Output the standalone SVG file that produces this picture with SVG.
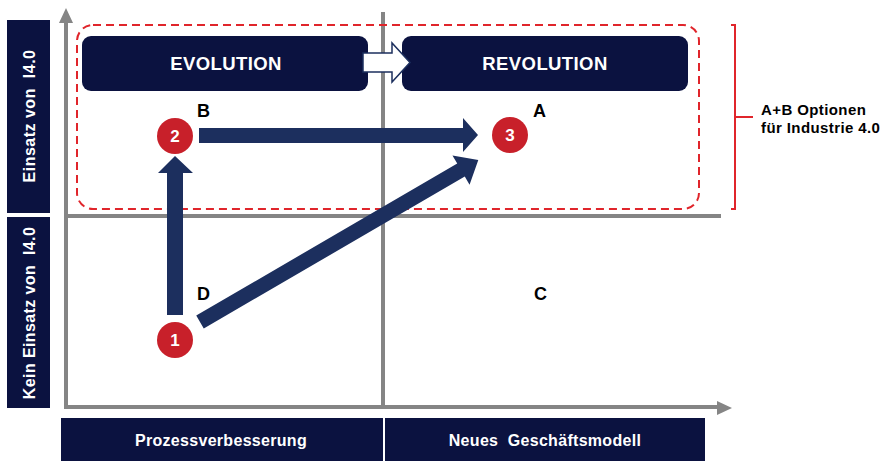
<svg xmlns="http://www.w3.org/2000/svg" width="886" height="461" viewBox="0 0 886 461">
  <style>
    .bar { fill: #0b1240; }
    .axis { stroke: #858585; stroke-width: 4; fill: none; }
    .lbl { font-family: "Liberation Sans", Arial, sans-serif; font-weight: bold; fill: #ffffff; }
    .txt { font-family: "Liberation Sans", Arial, sans-serif; font-weight: bold; fill: #000000; }
    .flow { fill: #1c2f5e; }
    .num { fill: #c8202a; }
  </style>
  <rect width="886" height="461" fill="#ffffff"/>

  <!-- axis labels -->
  <g id="label-einsatz">
    <rect class="bar" x="7" y="20" width="43" height="193"/>
    <text class="lbl" font-size="16" letter-spacing="0.5" text-anchor="middle" transform="translate(34.5,116) rotate(-90)">Einsatz von&#160; I4.0</text>
  </g>
  <g id="label-kein-einsatz">
    <rect class="bar" x="7" y="217" width="43" height="191"/>
    <text class="lbl" font-size="16" letter-spacing="0.4" text-anchor="middle" transform="translate(34.5,313) rotate(-90)">Kein Einsatz von&#160; I4.0</text>
  </g>
  <g id="label-prozess">
    <rect class="bar" x="61" y="418" width="322" height="43"/>
    <text class="lbl" font-size="16" letter-spacing="0.3" text-anchor="middle" x="221" y="446">Prozessverbesserung</text>
  </g>
  <g id="label-geschaeftsmodell">
    <rect class="bar" x="385" y="418" width="320" height="43"/>
    <text class="lbl" font-size="16" letter-spacing="0.3" text-anchor="middle" x="545" y="446">Neues&#160; Geschäftsmodell</text>
  </g>

  <!-- grid and axes -->
  <g id="axes">
    <line class="axis" x1="66" y1="407" x2="66" y2="22"/>
    <polygon points="66,8 59,23 73,23" fill="#858585"/>
    <line class="axis" x1="64" y1="407" x2="718" y2="407"/>
    <polygon points="732,408 717,401 717,415" fill="#858585"/>
    <line class="axis" x1="64" y1="216" x2="721" y2="216"/>
    <line class="axis" x1="383" y1="12" x2="383" y2="407"/>
  </g>

  <!-- option region -->
  <g id="options-region">
    <rect x="77" y="25" width="622" height="184" rx="16" fill="none" stroke="#e0252b" stroke-width="2" stroke-dasharray="8,5"/>
    <path d="M731,25 H735 V209 H731 M735,117 H753" fill="none" stroke="#e0252b" stroke-width="2"/>
    <text class="txt" font-size="15" letter-spacing="0.4" x="761" y="115">A+B Optionen</text>
    <text class="txt" font-size="15" letter-spacing="0.4" x="761" y="133">für Industrie 4.0</text>
  </g>

  <g id="evolution">
    <rect class="bar" x="82" y="36" width="286" height="55" rx="9"/>
    <text class="lbl" font-size="18.5" letter-spacing="0.4" text-anchor="middle" x="226" y="70">EVOLUTION</text>
  </g>
  <g id="revolution">
    <rect class="bar" x="402" y="36" width="286" height="55" rx="9"/>
    <text class="lbl" font-size="18.5" letter-spacing="0.4" text-anchor="middle" x="545" y="70">REVOLUTION</text>
  </g>

  <!-- connectors -->
  <g id="connectors">
    <polygon points="363,53 392,53 392,43 410,62.5 392,82 392,72 363,72" fill="#ffffff" stroke="#1c2f5e" stroke-width="1.5"/>
    <polygon class="flow" points="199,128 463,128 463,118 478,135 463,152 463,143 199,143"/>
    <polygon class="flow" points="167,315 167,173 158,173 175,156 193,173 183,173 183,315"/>
    <polygon class="flow" transform="translate(200,322) rotate(-30.2)" points="0,-7.5 302,-7.5 302,-17 322,0 302,17 302,7.5 0,7.5"/>
  </g>

  <!-- quadrant markers -->
  <g id="node-1">
    <circle class="num" cx="175" cy="340" r="18"/>
    <text class="lbl" font-size="17" text-anchor="middle" x="175" y="346">1</text>
  </g>
  <g id="node-2">
    <circle class="num" cx="175" cy="136" r="18"/>
    <text class="lbl" font-size="17" text-anchor="middle" x="175" y="142">2</text>
  </g>
  <g id="node-3">
    <circle class="num" cx="510" cy="135" r="18"/>
    <text class="lbl" font-size="17" text-anchor="middle" x="510" y="141">3</text>
  </g>
  <g id="quadrant-labels">
    <text class="txt" font-size="18" x="197" y="117">B</text>
    <text class="txt" font-size="18" x="533" y="117">A</text>
    <text class="txt" font-size="18" x="197" y="300">D</text>
    <text class="txt" font-size="18" x="534" y="300">C</text>
  </g>
</svg>
